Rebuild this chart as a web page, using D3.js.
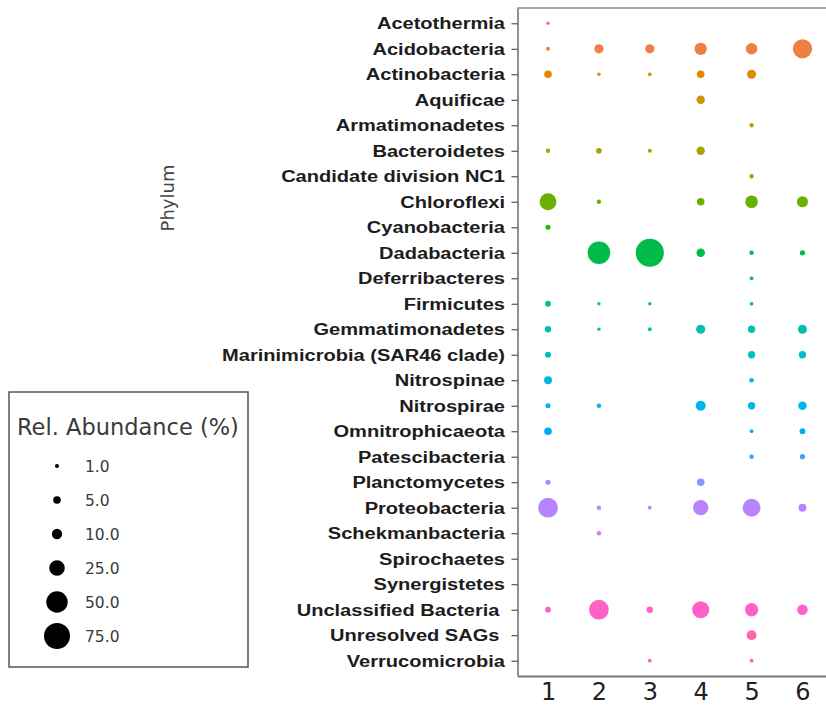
<!DOCTYPE html>
<html>
<head>
<meta charset="utf-8">
<script src="https://cdn.jsdelivr.net/npm/d3@7"></script>
<style>
  html, body { margin: 0; padding: 0; background: #fff; }
  svg { display: block; }
</style>
</head>
<body>
<div id="chart"></div>
<script>
// Phyla on the y axis, top to bottom
const phyla = [
  "Acetothermia", "Acidobacteria", "Actinobacteria", "Aquificae",
  "Armatimonadetes", "Bacteroidetes", "Candidate division NC1", "Chloroflexi",
  "Cyanobacteria", "Dadabacteria", "Deferribacteres", "Firmicutes",
  "Gemmatimonadetes", "Marinimicrobia (SAR46 clade)", "Nitrospinae", "Nitrospirae",
  "Omnitrophicaeota", "Patescibacteria", "Planctomycetes", "Proteobacteria",
  "Schekmanbacteria", "Spirochaetes", "Synergistetes", "Unclassified Bacteria ",
  "Unresolved SAGs ", "Verrucomicrobia"
];

// Samples on the x axis
const samples = ["1", "2", "3", "4", "5", "6"];

// Relative abundance (%) per phylum, one array per sample (null = not detected)
const sample1 = [0.7, 1.0, 5.0, null, null, 1.2, null, 30, 1.8, null, null, 2.6, 3.2,
                 2.8, 5.5, 1.8, 5.0, null, 1.8, 42, null, null, null, 2.6, null, null];
const sample2 = [null, 8, 0.6, null, null, 2.5, null, 1.2, null, 56, null, 0.6, 0.6,
                 null, null, 1.3, null, null, null, 1.3, 1.3, null, null, 42, null, null];
const sample3 = [null, 8, 0.8, null, null, 1.0, null, null, null, 88, null, 0.6, 0.8,
                 null, null, null, null, null, null, 0.8, null, null, null, 3.4, null, 0.8];
const sample4 = [null, 15, 5.0, 6.2, null, 6.2, null, 5.0, null, 6.5, null, null, 7.5,
                 null, null, 9.5, null, null, 5.0, 24, null, null, null, 31, null, null];
const sample5 = [null, 13, 7.5, null, 1.2, null, 1.2, 16, null, 1.3, 0.8, 0.8, 4.5,
                 4.5, 1.4, 4.5, 0.8, 1.4, null, 34, null, null, null, 18, 9, 0.8];
const sample6 = [null, 40, null, null, null, null, null, 12, null, 2.0, null, null, 7.5,
                 4.5, null, 6.5, 2.6, 2.0, null, 5.5, null, null, null, 10.5, null, null];

// Size legend breaks
const legendBreaks = [1.0, 5.0, 10.0, 25.0, 50.0, 75.0];

const sampleValues = [sample1, sample2, sample3, sample4, sample5, sample6];

// Long table: one row per detected (sample, phylum)
const points = [];
samples.forEach((s, si) => {
  sampleValues[si].forEach((v, pi) => {
    if (v != null) points.push({ sample: s, phylum: phyla[pi], value: v });
  });
});

// Evenly spaced hues in polar LUV (same recipe as the ggplot default palette)
function hclHex(h, c, l) {
  const hr = h * Math.PI / 180;
  const U = c * Math.cos(hr), V = c * Math.sin(hr);
  const Xn = 95.047, Yn = 100, Zn = 108.883;
  const Y = l > 8 ? Yn * Math.pow((l + 16) / 116, 3) : Yn * l / 903.3;
  const den = Xn + 15 * Yn + 3 * Zn;
  const un = 4 * Xn / den, vn = 9 * Yn / den;
  const up = U / (13 * l) + un, vp = V / (13 * l) + vn;
  const X = 9 * Y * up / (4 * vp);
  const Z = -X / 3 - 5 * Y + 3 * Y / vp;
  const x = X / 100, y = Y / 100, z = Z / 100;
  const lin = [
    3.240479 * x - 1.537150 * y - 0.498535 * z,
    -0.969256 * x + 1.875992 * y + 0.041556 * z,
    0.055648 * x - 0.204043 * y + 1.057311 * z
  ];
  const g = lin.map(v => {
    const s = v <= 0.0031308 ? 12.92 * v : 1.055 * Math.pow(v, 1 / 2.4) - 0.055;
    return Math.round(Math.max(0, Math.min(1, s)) * 255);
  });
  return d3.rgb(g[0], g[1], g[2]).formatHex();
}
const huePalette = phyla.map((_, i) => hclHex(15 + i * 360 / phyla.length, 100, 65));
const color = d3.scaleOrdinal().domain(phyla).range(huePalette);

const W = 826, H = 708;
const panel = { left: 517.5, right: 833, top: 8, bottom: 676 };

const svg = d3.select("#chart").append("svg")
  .attr("width", W).attr("height", H)
  .attr("viewBox", `0 0 ${W} ${H}`);

const x = d3.scalePoint().domain(samples)
  .range([panel.left, panel.right]).padding(0.6);
const y = d3.scalePoint().domain(phyla)
  .range([panel.top, panel.bottom]).padding(0.6);
const r = d3.scaleSqrt().domain([0, 75]).range([0.6, 13]);

// Panel top edge
svg.append("line")
  .attr("x1", panel.left).attr("x2", W)
  .attr("y1", panel.top).attr("y2", panel.top)
  .attr("stroke", "#8a8a8a").attr("stroke-width", 1.3);

// Points
svg.append("g").selectAll("circle")
  .data(points)
  .join("circle")
  .attr("cx", d => x(d.sample))
  .attr("cy", d => y(d.phylum))
  .attr("r", d => r(d.value))
  .attr("fill", d => color(d.phylum));

// Y axis
const labelScale = 1.18;
const yAxis = svg.append("g")
  .attr("transform", `translate(${panel.left},0)`)
  .call(d3.axisLeft(y).tickSize(6).tickSizeOuter(0));
yAxis.select(".domain").attr("stroke", "#555").attr("stroke-width", 1.3);
yAxis.selectAll(".tick line").attr("stroke", "#444").attr("stroke-width", 1.1);
yAxis.selectAll(".tick text")
  .attr("x", -12.5 / labelScale)
  .attr("transform", `scale(${labelScale},1)`)
  .style("white-space", "pre")
  .attr("xml:space", "preserve")
  .attr("fill", "#1c1c1c")
  .attr("font-family", "'Liberation Sans', Arial, sans-serif")
  .attr("font-weight", "bold")
  .attr("font-size", 17);

// X axis
const xAxis = svg.append("g")
  .attr("transform", `translate(0,${panel.bottom})`)
  .call(d3.axisBottom(x).tickSize(0).tickPadding(7).tickSizeOuter(0));
xAxis.select(".domain").attr("stroke", "#777").attr("stroke-width", 2);
xAxis.selectAll(".tick text")
  .attr("fill", "#222")
  .attr("font-family", "'DejaVu Sans', Verdana, sans-serif")
  .attr("font-size", 24);

// Y axis title
svg.append("text")
  .attr("transform", "translate(174,198) rotate(-90)")
  .attr("text-anchor", "middle")
  .attr("font-family", "'DejaVu Sans', Verdana, sans-serif")
  .attr("font-size", 18)
  .attr("fill", "#444")
  .text("Phylum");

// Size legend
const lg = svg.append("g");
lg.append("rect")
  .attr("x", 9).attr("y", 392).attr("width", 239).attr("height", 275)
  .attr("fill", "#fff").attr("stroke", "#555").attr("stroke-width", 1.5);
lg.append("text")
  .attr("x", 17).attr("y", 435)
  .attr("font-family", "'DejaVu Sans', Verdana, sans-serif")
  .attr("font-size", 22.5)
  .attr("fill", "#3a3a3a")
  .text("Rel. Abundance (%)");
const keyY = d3.scalePoint().domain(legendBreaks).range([466, 636]);
const keys = lg.selectAll("g.key").data(legendBreaks).join("g")
  .attr("class", "key")
  .attr("transform", d => `translate(0,${keyY(d)})`);
keys.append("circle").attr("cx", 57).attr("cy", 0).attr("r", d => r(d)).attr("fill", "#000");
keys.append("text")
  .attr("x", 85).attr("dy", "0.36em")
  .attr("font-family", "'DejaVu Sans', Verdana, sans-serif")
  .attr("font-size", 15.5)
  .attr("fill", "#3a3a3a")
  .text(d => d.toFixed(1));
</script>
</body>
</html>
